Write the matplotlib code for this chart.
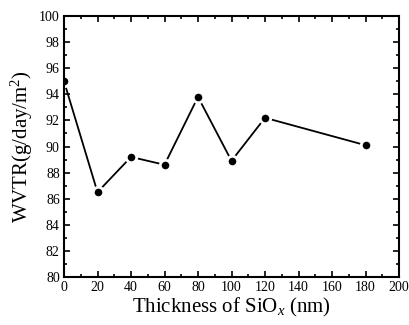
import numpy as np
import matplotlib
matplotlib.use("Agg")
import matplotlib.pyplot as plt
from matplotlib.ticker import MultipleLocator

# thickness of SiOx (nm) vs WVTR
thickness = [0, 20, 40, 60, 80, 100, 120, 180]
wvtr = [95.0, 86.5, 89.2, 88.6, 93.8, 88.9, 92.2, 90.1]

plt.rcParams["font.family"] = ["Liberation Serif", "DejaVu Serif"]
plt.rcParams["mathtext.fontset"] = "custom"
plt.rcParams["mathtext.rm"] = "Liberation Serif"
plt.rcParams["mathtext.it"] = "Liberation Serif:italic"

fig = plt.figure(figsize=(4.09, 3.25), dpi=100)
ax = fig.add_axes([64/409, 48/325, 335/409, 261/325])

ax.plot(thickness, wvtr, color="black", lw=1.3, marker="o", ms=7.5,
        mfc="black", mec="white", mew=2)

ax.set_xlim(0, 200)
ax.set_ylim(80, 100)
ax.xaxis.set_major_locator(MultipleLocator(20))
ax.xaxis.set_minor_locator(MultipleLocator(10))
ax.yaxis.set_major_locator(MultipleLocator(2))
ax.yaxis.set_minor_locator(MultipleLocator(1))
ax.tick_params(which="both", direction="in", top=True, right=True, width=1.2,
               labelsize=10, pad=3)
ax.tick_params(which="major", length=4)
ax.tick_params(which="minor", length=2)
for s in ax.spines.values():
    s.set_linewidth(1.5)

ax.set_xlabel("Thickness of SiO$_x$ (nm)", fontsize=15, labelpad=1)
ax.set_ylabel("WVTR(g/day/m$^2$)", fontsize=15, labelpad=3)

fig.savefig("out.png", dpi=100)
